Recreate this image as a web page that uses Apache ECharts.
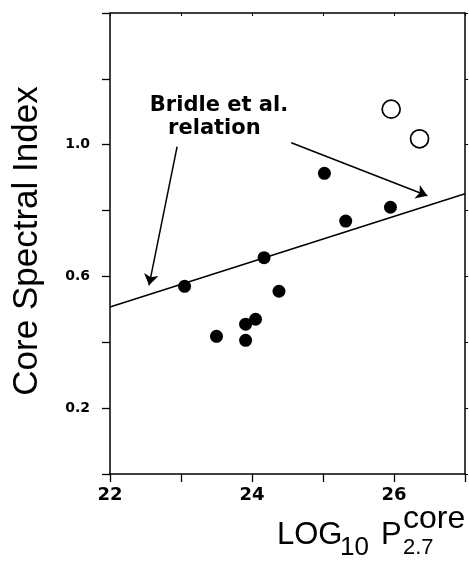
<!DOCTYPE html>
<html>
<head>
<meta charset="utf-8">
<script src="https://cdn.jsdelivr.net/npm/echarts@6/dist/echarts.min.js"></script>
<style>
html,body{margin:0;padding:0;background:#fff;}
#chart{width:469px;height:563px;}
</style>
</head>
<body>
<div id="chart"></div>
<script>
// Data
const filledX = [23.05, 23.50, 23.91, 23.91, 24.05, 24.17, 24.38, 25.02, 25.32, 25.95];
const filledY = [0.570, 0.418, 0.455, 0.406, 0.470, 0.657, 0.555, 0.913, 0.768, 0.810];
const openX = [25.96, 26.36];
const openY = [1.108, 1.018];
const relationX = [22, 27];
const relationY = [0.507, 0.851];
const xLabelValues = [22, 24, 26];
const yLabelValues = [0.2, 0.6, 1.0];
const annotationTexts = ['Bridle et al.', 'relation'];
const annotationX = [23.535, 23.47];
const annotationY = [1.118, 1.048];
// arrows: [startX, startY, endX, endY]
const arrowLeft = [22.945, 0.994, 22.55, 0.573];
const arrowRight = [24.553, 1.006, 26.47, 0.845];

const chart = echarts.init(document.getElementById('chart'), null, {renderer: 'canvas'});
const black = '#000';
const axisBase = {
  type: 'value',
  axisLine: {show: true, onZero: false, lineStyle: {color: black, width: 1.5}},
  splitLine: {show: false}
};
const option = {
  backgroundColor: '#fff',
  animation: false,
  grid: {left: 110, right: 4, top: 13, bottom: 89, containLabel: false},
  xAxis: [
    Object.assign({}, axisBase, {
      position: 'bottom', min: 22, max: 27, interval: 1,
      axisTick: {show: true, inside: false, length: 8, lineStyle: {color: black, width: 1.3}},
      axisLabel: {
        margin: 12, color: black, fontFamily: 'DejaVu Sans', fontWeight: 'bold', fontSize: 18,
        formatter: v => xLabelValues.indexOf(Math.round(v)) >= 0 ? String(Math.round(v)) : ''
      }
    }),
    Object.assign({}, axisBase, {
      position: 'top', min: 22, max: 27, interval: 1,
      axisTick: {show: true, inside: true, length: 3, lineStyle: {color: black, width: 1}},
      axisLabel: {show: false}
    })
  ],
  yAxis: [
    Object.assign({}, axisBase, {
      position: 'left', min: 0, max: 1.4, interval: 0.2,
      axisTick: {show: true, inside: false, length: 8, lineStyle: {color: black, width: 1.3}},
      axisLabel: {
        margin: 20, color: black, fontFamily: 'DejaVu Sans', fontWeight: 'bold', fontSize: 14,
        formatter: v => {
          const r = Math.round(v * 10) / 10;
          return yLabelValues.some(t => Math.abs(t - r) < 1e-6) ? r.toFixed(1) : '';
        }
      }
    }),
    Object.assign({}, axisBase, {
      position: 'right', min: 0, max: 1.4, interval: 0.2,
      axisTick: {show: true, inside: false, length: 3, lineStyle: {color: black, width: 1}},
      axisLabel: {show: false}
    })
  ],
  series: [
    {
      type: 'line',
      data: relationX.map((x, i) => [x, relationY[i]]),
      symbol: 'none',
      lineStyle: {color: black, width: 1.5},
      silent: true,
      markLine: {
        silent: true,
        symbol: ['none', 'arrow'],
        symbolSize: 11,
        label: {show: false},
        lineStyle: {color: black, width: 1.5, type: 'solid', opacity: 1},
        itemStyle: {color: black},
        data: [
          [{coord: [arrowLeft[0], arrowLeft[1]]}, {coord: [arrowLeft[2], arrowLeft[3]]}],
          [{coord: [arrowRight[0], arrowRight[1]]}, {coord: [arrowRight[2], arrowRight[3]]}]
        ]
      }
    },
    {
      type: 'scatter',
      data: filledX.map((x, i) => [x, filledY[i]]),
      symbol: 'circle',
      symbolSize: 13,
      itemStyle: {color: black, borderWidth: 0, opacity: 1},
      silent: true
    },
    {
      type: 'scatter',
      data: openX.map((x, i) => [x, openY[i]]),
      symbol: 'circle',
      symbolSize: 18,
      itemStyle: {color: '#fff', borderColor: black, borderWidth: 1.7, opacity: 1},
      silent: true
    },
    {
      type: 'scatter',
      data: annotationX.map((x, i) => ({value: [x, annotationY[i]], name: annotationTexts[i]})),
      symbolSize: 1,
      itemStyle: {color: 'rgba(0,0,0,0)', opacity: 1},
      silent: true,
      label: {
        show: true, position: 'inside', formatter: p => p.name, opacity: 1,
        color: black, fontFamily: 'DejaVu Sans', fontWeight: 'bold', fontSize: 21,
        align: 'center', verticalAlign: 'middle'
      }
    }
  ],
  graphic: [
    {
      type: 'text', x: 27, y: 241, rotation: Math.PI / 2,
      style: {text: 'Core Spectral Index', fontFamily: 'Liberation Sans', fontSize: 35, fill: black, align: 'center', verticalAlign: 'middle'}
    },
    {
      type: 'text', x: 277, y: 535,
      style: {text: 'LOG', fontFamily: 'Liberation Sans', fontSize: 31, fill: black, align: 'left', verticalAlign: 'middle'}
    },
    {
      type: 'text', x: 340, y: 548,
      style: {text: '10', fontFamily: 'Liberation Sans', fontSize: 26, fill: black, align: 'left', verticalAlign: 'middle'}
    },
    {
      type: 'text', x: 381, y: 535,
      style: {text: 'P', fontFamily: 'Liberation Sans', fontSize: 31, fill: black, align: 'left', verticalAlign: 'middle'}
    },
    {
      type: 'text', x: 403, y: 548,
      style: {text: '2.7', fontFamily: 'Liberation Sans', fontSize: 22, fill: black, align: 'left', verticalAlign: 'middle'}
    },
    {
      type: 'text', x: 403, y: 519,
      style: {text: 'core', fontFamily: 'Liberation Sans', fontSize: 32, fill: black, align: 'left', verticalAlign: 'middle'}
    }
  ]
};
chart.setOption(option);
</script>
</body>
</html>
